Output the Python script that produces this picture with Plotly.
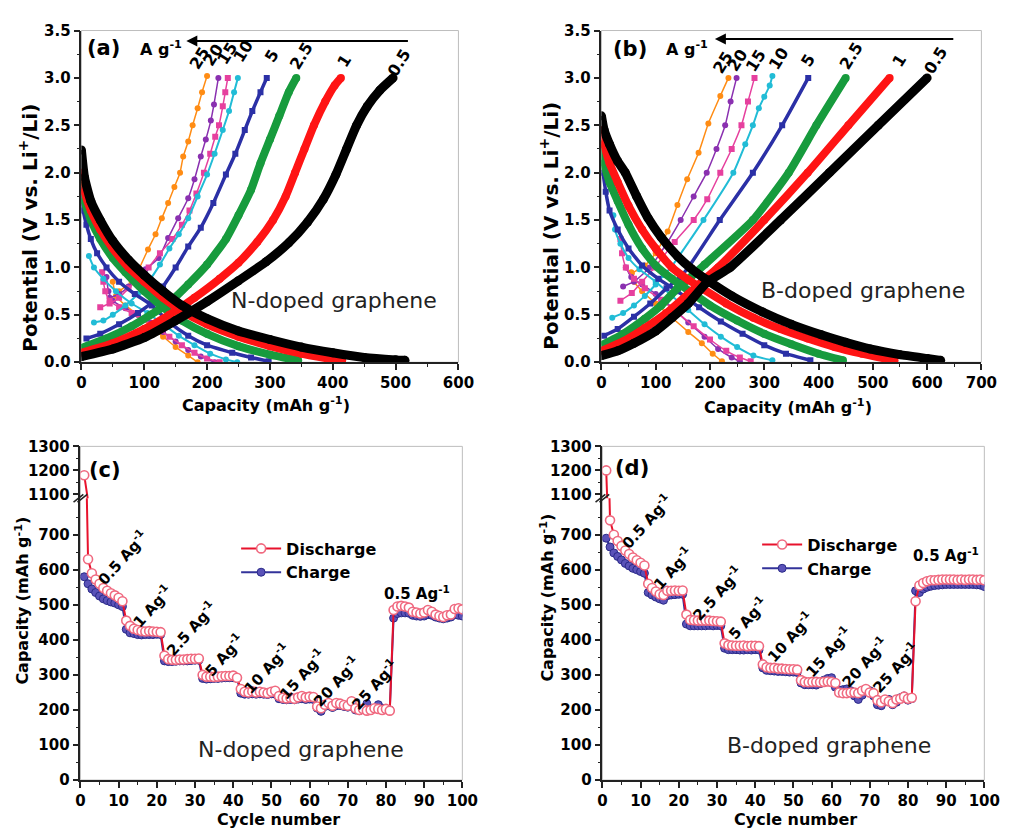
import plotly.graph_objects as go

W, H = 1016, 837
FONT = "DejaVu Sans"

# ---------------- galvanostatic profiles ----------------
RATES = ["0.5", "1", "2.5", "5", "10", "15", "20", "25"]
RATE_COLORS = ["#000000", "#ff1414", "#179b3d", "#2b30a6", "#21bcd6", "#e6409e", "#8a30b0", "#ff8c14"]

# N-doped graphene, charge branch (capacity mAh/g, potential V)
n_chg_cap = [
    [0, 50, 100, 150, 200, 250, 294, 330, 360, 385, 405, 422, 438, 455, 475, 496],
    [0, 50, 100, 140, 180, 220, 250, 280, 305, 325, 340, 355, 370, 388, 403, 413],
    [0, 40, 80, 110, 140, 170, 200, 230, 250, 270, 285, 300, 315, 330, 342],
    [8, 30, 60, 90, 110, 130, 150, 170, 190, 210, 230, 245, 260, 272, 285, 295],
    [20, 35, 50, 70, 90, 110, 125, 140, 155, 170, 185, 200, 212, 225, 235, 243, 249],
    [30, 45, 60, 75, 90, 107, 125, 145, 160, 172, 183, 195, 205, 213, 219, 225, 229, 233],
    [45, 60, 75, 88, 102, 123, 138, 154, 170, 180, 190, 198, 206, 211, 218],
    [60, 80, 92, 106, 118, 128, 138, 148, 157, 162, 170, 177, 185, 192, 200],
]
n_chg_v = [
    [0.06, 0.14, 0.26, 0.44, 0.64, 0.86, 1.06, 1.26, 1.48, 1.72, 1.98, 2.25, 2.50, 2.70, 2.87, 3.00],
    [0.10, 0.20, 0.35, 0.50, 0.68, 0.88, 1.05, 1.27, 1.50, 1.75, 2.00, 2.25, 2.50, 2.75, 2.92, 3.00],
    [0.15, 0.25, 0.38, 0.50, 0.63, 0.82, 1.03, 1.30, 1.55, 1.82, 2.10, 2.35, 2.60, 2.85, 3.00],
    [0.25, 0.30, 0.40, 0.52, 0.62, 0.80, 1.00, 1.22, 1.42, 1.68, 1.98, 2.20, 2.45, 2.65, 2.85, 3.00],
    [0.42, 0.44, 0.50, 0.60, 0.72, 0.88, 1.03, 1.20, 1.35, 1.52, 1.75, 1.98, 2.20, 2.45, 2.65, 2.85, 3.00],
    [0.58, 0.62, 0.68, 0.78, 0.88, 1.00, 1.15, 1.30, 1.45, 1.60, 1.78, 2.00, 2.20, 2.38, 2.50, 2.70, 2.85, 3.00],
    [0.68, 0.72, 0.80, 0.90, 0.98, 1.10, 1.31, 1.52, 1.73, 1.93, 2.17, 2.35, 2.55, 2.72, 3.00],
    [0.75, 0.85, 0.99, 1.19, 1.35, 1.52, 1.68, 1.85, 2.00, 2.17, 2.33, 2.50, 2.68, 2.85, 3.02],
]
# N-doped graphene, discharge branch
n_dis_cap = [
    [0, 5, 15, 30, 50, 75, 100, 130, 160, 200, 250, 300, 350, 400, 450, 500, 515],
    [0, 5, 15, 30, 50, 75, 100, 130, 160, 200, 250, 300, 350, 400, 415],
    [0, 5, 15, 30, 50, 70, 100, 130, 160, 200, 250, 300, 345],
    [0, 3, 8, 15, 25, 40, 60, 85, 112, 140, 170, 200, 240, 270, 298],
    [12, 20, 35, 55, 80, 105, 130, 155, 180, 205, 230, 248],
    [33, 35, 38, 45, 60, 80, 100, 120, 140, 160, 180, 200, 220],
    [40, 43, 50, 70, 90, 110, 130, 150, 170, 190, 212],
    [50, 55, 70, 90, 110, 130, 150, 170, 185],
]
n_dis_v = [
    [2.24, 1.95, 1.70, 1.50, 1.28, 1.08, 0.92, 0.75, 0.60, 0.46, 0.33, 0.24, 0.16, 0.10, 0.05, 0.025, 0.02],
    [2.00, 1.80, 1.60, 1.40, 1.20, 1.00, 0.85, 0.68, 0.54, 0.40, 0.27, 0.17, 0.09, 0.03, 0.02],
    [1.90, 1.70, 1.50, 1.30, 1.10, 0.95, 0.75, 0.58, 0.44, 0.30, 0.17, 0.08, 0.02],
    [1.85, 1.60, 1.45, 1.30, 1.15, 1.00, 0.85, 0.72, 0.60, 0.42, 0.28, 0.18, 0.10, 0.05, 0.01],
    [1.12, 1.00, 0.88, 0.75, 0.62, 0.52, 0.40, 0.28, 0.18, 0.09, 0.03, 0.00],
    [0.95, 0.85, 0.75, 0.65, 0.58, 0.52, 0.45, 0.36, 0.27, 0.18, 0.10, 0.04, 0.00],
    [0.90, 0.75, 0.65, 0.57, 0.50, 0.42, 0.32, 0.22, 0.13, 0.06, 0.00],
    [0.85, 0.70, 0.60, 0.50, 0.38, 0.27, 0.16, 0.07, 0.00],
]

# B-doped graphene, charge branch
b_chg_cap = [
    [0, 30, 60, 100, 130, 160, 194, 237, 330, 420, 510, 600],
    [0, 40, 80, 120, 160, 185, 215, 300, 380, 455, 531],
    [0, 40, 80, 110, 140, 165, 190, 279, 345, 396, 450],
    [5, 30, 60, 90, 120, 145, 160, 218, 279, 333, 381],
    [20, 40, 60, 80, 100, 115, 128, 188, 243, 265, 279, 290, 300, 310, 315],
    [35, 56, 75, 98, 135, 170, 195, 219, 240, 258, 270, 282],
    [40, 60, 89, 120, 146, 170, 194, 212, 228, 238, 249],
    [56, 80, 100, 122, 140, 158, 179, 197, 219, 234],
]
b_chg_v = [
    [0.07, 0.12, 0.20, 0.33, 0.47, 0.62, 0.84, 1.00, 1.50, 2.00, 2.50, 3.00],
    [0.12, 0.22, 0.36, 0.52, 0.72, 0.85, 1.00, 1.50, 2.00, 2.50, 3.00],
    [0.18, 0.30, 0.46, 0.60, 0.78, 0.90, 1.03, 1.50, 2.00, 2.50, 3.00],
    [0.28, 0.35, 0.48, 0.62, 0.78, 0.90, 1.00, 1.50, 2.00, 2.50, 3.00],
    [0.47, 0.52, 0.60, 0.70, 0.82, 0.92, 1.00, 1.50, 2.00, 2.30, 2.50, 2.68, 2.80, 2.92, 3.02],
    [0.65, 0.73, 0.85, 1.00, 1.27, 1.50, 1.72, 2.00, 2.25, 2.50, 2.75, 3.00],
    [0.80, 0.85, 1.00, 1.25, 1.50, 1.75, 2.00, 2.25, 2.50, 2.75, 3.00],
    [0.94, 1.02, 1.15, 1.38, 1.66, 1.93, 2.21, 2.52, 2.81, 3.00],
]
# B-doped graphene, discharge branch
b_dis_cap = [
    [0, 5, 15, 30, 44, 65, 86, 110, 140, 165, 194, 240, 297, 350, 405, 450, 495, 550, 600, 625],
    [0, 5, 15, 30, 50, 75, 100, 130, 160, 185, 230, 280, 330, 380, 430, 480, 530, 540],
    [0, 5, 15, 30, 50, 75, 100, 130, 165, 200, 250, 300, 350, 400, 445],
    [3, 8, 15, 30, 50, 75, 105, 140, 180, 220, 260, 300, 340, 385],
    [22, 25, 35, 50, 70, 100, 130, 160, 190, 220, 250, 280, 315],
    [35, 38, 45, 60, 80, 110, 140, 170, 200, 230, 255, 275],
    [45, 55, 75, 100, 130, 160, 190, 215, 240, 255],
    [55, 60, 75, 100, 130, 160, 185, 205, 222],
]
b_dis_v = [
    [2.60, 2.45, 2.30, 2.12, 2.00, 1.75, 1.52, 1.32, 1.12, 0.99, 0.87, 0.70, 0.53, 0.40, 0.29, 0.21, 0.14, 0.08, 0.04, 0.02],
    [2.45, 2.30, 2.10, 1.90, 1.65, 1.40, 1.20, 1.00, 0.87, 0.78, 0.62, 0.47, 0.35, 0.25, 0.16, 0.09, 0.03, 0.02],
    [2.30, 2.10, 1.90, 1.70, 1.45, 1.20, 1.02, 0.88, 0.74, 0.60, 0.44, 0.30, 0.19, 0.09, 0.02],
    [2.00, 1.80, 1.60, 1.40, 1.20, 1.02, 0.88, 0.75, 0.58, 0.43, 0.30, 0.18, 0.09, 0.02],
    [1.55, 1.40, 1.25, 1.10, 0.98, 0.85, 0.70, 0.55, 0.40, 0.27, 0.16, 0.07, 0.02],
    [1.30, 1.15, 1.00, 0.88, 0.78, 0.66, 0.52, 0.38, 0.24, 0.12, 0.05, 0.01],
    [1.00, 0.90, 0.82, 0.72, 0.58, 0.42, 0.27, 0.14, 0.05, 0.01],
    [0.95, 0.85, 0.75, 0.62, 0.47, 0.32, 0.20, 0.09, 0.01],
]

# rate label anchors (capacity, potential)
n_label_cap = [506, 419, 349, 302, 257, 232, 209, 187]
n_label_v = [3.16, 3.18, 3.23, 3.23, 3.28, 3.26, 3.24, 3.21]
b_label_cap = [616, 549, 459, 381, 327, 285, 251, 224]
b_label_v = [3.18, 3.18, 3.23, 3.18, 3.20, 3.18, 3.18, 3.16]

# ---------------- rate capability ----------------
cycles = list(range(1, 101))
n_discharge = [1180, 630, 590, 572, 560, 548, 540, 533, 527, 520,
               510, 455, 440, 432, 428, 425, 424, 425, 424, 423,
               422, 355, 345, 343, 343, 344, 344, 345, 346, 346,
               347, 300, 295, 295, 294, 295, 296, 297, 297, 298,
               292, 260, 252, 250, 253, 250, 252, 250, 248, 252,
               255, 240, 235, 233, 235, 232, 236, 240, 236, 238,
               237, 210, 205, 215, 220, 212, 220, 218, 214, 212,
               225, 205, 200, 203, 198, 200, 205, 203, 200, 203,
               198, 485, 495, 497, 495, 492, 480, 478, 475, 478,
               485, 480, 472, 468, 465, 470, 472, 488, 490, 487]
n_charge = [580, 560, 545, 535, 525, 517, 512, 508, 505, 500,
            495, 430, 420, 418, 415, 414, 415, 415, 415, 416,
            415, 340, 338, 338, 339, 340, 340, 340, 341, 342,
            342, 290, 288, 289, 290, 290, 291, 292, 292, 292,
            290, 248, 245, 245, 246, 245, 246, 245, 244, 246,
            245, 232, 230, 229, 230, 229, 231, 232, 230, 231,
            230, 205, 196, 210, 212, 207, 212, 213, 210, 208,
            212, 200, 198, 203, 218, 202, 205, 215, 205, 202,
            200, 462, 475, 477, 477, 476, 470, 468, 467, 468,
            472, 470, 465, 462, 460, 462, 465, 472, 470, 468]
b_discharge = [1200, 741, 700, 682, 668, 655, 645, 635, 627, 620,
               612, 560, 548, 538, 530, 528, 540, 540, 541, 540,
               541, 472, 457, 456, 455, 455, 455, 455, 454, 453,
               452, 390, 385, 384, 383, 383, 384, 382, 383, 383,
               382, 330, 322, 320, 320, 318, 318, 317, 316, 316,
               315, 285, 280, 279, 280, 280, 279, 280, 281, 280,
               277, 250, 248, 248, 250, 250, 248, 255, 260, 250,
               248, 228, 222, 230, 225, 220, 230, 232, 238, 232,
               235, 510, 555, 562, 567, 570, 570, 571, 572, 572,
               572, 572, 571, 572, 571, 572, 572, 571, 572, 570]
b_charge = [690, 665, 648, 638, 628, 618, 611, 604, 600, 595,
            590, 535, 528, 522, 517, 513, 526, 528, 529, 530,
            530, 445, 440, 440, 440, 440, 440, 441, 440, 441,
            440, 376, 372, 372, 372, 371, 371, 372, 371, 372,
            371, 320, 313, 312, 311, 310, 310, 309, 308, 308,
            307, 277, 272, 272, 272, 271, 275, 285, 290, 292,
            265, 257, 258, 260, 255, 240, 230, 242, 258, 255,
            240, 215, 212, 225, 230, 215, 222, 235, 240, 228,
            232, 540, 535, 545, 550, 553, 555, 556, 557, 558,
            558, 558, 558, 558, 558, 558, 558, 557, 556, 552]

STEP_LABELS = ["0.5", "1", "2.5", "5", "10", "15", "20", "25"]
n_step_cycle = [11, 18.7, 29, 37.5, 48.7, 58, 67, 77]
n_step_cap = [637, 497, 433, 357, 321, 302, 282, 274]
b_step_cycle = [11.5, 18.4, 30, 38, 49, 59, 68.5, 76.5]
b_step_cap = [740, 604, 534, 461, 408, 366, 338, 321]


def px(x):
    return x / W


def py(y):
    return 1 - y / H


fig = go.Figure()

# profile styles (line width, marker size, marker symbol)
LW = [9, 8, 8, 3.5, 2, 1.5, 1.5, 1.5]
MS = [9, 8, 8, 6, 6, 6, 6, 6]
SYM = ["circle", "circle", "circle", "square", "circle", "square", "circle", "circle"]


def add_profiles(xa, ya, chg_cap, chg_v, dis_cap, dis_v):
    for i in reversed(range(len(RATES))):
        for cx, cy in ((chg_cap[i], chg_v[i]), (dis_cap[i], dis_v[i])):
            fig.add_trace(go.Scatter(
                x=cx, y=cy, xaxis=xa, yaxis=ya, mode="lines+markers",
                line=dict(color=RATE_COLORS[i], width=LW[i], shape="spline", smoothing=0.5),
                marker=dict(color=RATE_COLORS[i], size=MS[i], symbol=SYM[i]),
                showlegend=False, hoverinfo="skip"))


add_profiles("x", "y", n_chg_cap, n_chg_v, n_dis_cap, n_dis_v)
add_profiles("x2", "y2", b_chg_cap, b_chg_v, b_dis_cap, b_dis_v)

RED = "#e8122c"
NAVY = "#33339a"


def add_rate(xa, ylo, yhi, dis, chg, legend):
    for ya, show in ((ylo, True), (yhi, False)):
        fig.add_trace(go.Scatter(
            x=cycles, y=chg, xaxis=xa, yaxis=ya, mode="lines+markers", name="Charge",
            line=dict(color=NAVY, width=2),
            marker=dict(symbol="circle", size=8, color="#5a52b8", line=dict(color="#2a2a88", width=1)),
            showlegend=show, legend=legend, legendrank=2, hoverinfo="skip"))
    for ya, show in ((ylo, True), (yhi, False)):
        fig.add_trace(go.Scatter(
            x=cycles, y=dis, xaxis=xa, yaxis=ya, mode="lines+markers", name="Discharge",
            line=dict(color=RED, width=2),
            marker=dict(symbol="circle", size=9, color="white", line=dict(color="#f06a80", width=1.6)),
            showlegend=show, legend=legend, legendrank=1, hoverinfo="skip"))


add_rate("x3", "y3", "y5", n_discharge, n_charge, "legend")
add_rate("x4", "y4", "y6", b_discharge, b_charge, "legend2")

TICKFONT = dict(family=FONT, size=15, color="black", weight="bold")


def axis(domain, rng, anchor, dtick=None, minor=None, tickvals=None, fmt=None):
    d = dict(domain=domain, range=rng, anchor=anchor, showline=True, linecolor="#222",
             linewidth=1.5, ticks="outside", ticklen=6, tickwidth=1.5, tickcolor="#222",
             showgrid=False, zeroline=False, tickfont=TICKFONT, mirror=False)
    if dtick is not None:
        d["dtick"] = dtick
        d["tick0"] = 0
    if tickvals is not None:
        d["tickmode"] = "array"
        d["tickvals"] = tickvals
    if minor is not None:
        d["minor"] = dict(ticks="outside", ticklen=3, tickwidth=1.2, tickcolor="#222", **minor)
    if fmt:
        d["tickformat"] = fmt
    return d


A_X = [px(78), px(463)]
B_X = [px(609), px(997)]
C_X = [px(77), px(467)]
D_X = [px(610), px(1000)]
TOP_Y = [py(361), py(22)]
LOW_Y = [py(788), py(500)]
UP_Y = [py(500), py(447)]

fig.update_layout(
    xaxis=axis(A_X, [0, 600], "y", dtick=100, minor=dict(dtick=50)),
    yaxis=axis(TOP_Y, [0, 3.5], "x", dtick=0.5, minor=dict(dtick=0.25), fmt=".1f"),
    xaxis2=axis(B_X, [0, 700], "y2", dtick=100, minor=dict(dtick=50)),
    yaxis2=axis(TOP_Y, [0, 3.5], "x2", dtick=0.5, minor=dict(dtick=0.25), fmt=".1f"),
    xaxis3=axis(C_X, [0, 100], "y3", dtick=10, minor=dict(dtick=5)),
    yaxis3=axis(LOW_Y, [0, 804], "x3", tickvals=list(range(0, 800, 100)),
                minor=dict(tickvals=list(range(50, 800, 100)))),
    yaxis5=axis(UP_Y, [1084, 1300], "x3", tickvals=[1100, 1200, 1300],
                minor=dict(tickvals=[1150, 1250])),
    xaxis4=axis(D_X, [0, 100], "y4", dtick=10, minor=dict(dtick=5)),
    yaxis4=axis(LOW_Y, [0, 804], "x4", tickvals=list(range(0, 800, 100)),
                minor=dict(tickvals=list(range(50, 800, 100)))),
    yaxis6=axis(UP_Y, [1084, 1300], "x4", tickvals=[1100, 1200, 1300],
                minor=dict(tickvals=[1150, 1250])),
)

# light frames around each panel
shapes = []
for xs, ys in ((A_X, TOP_Y), (B_X, TOP_Y), (C_X, [LOW_Y[0], UP_Y[1]]), (D_X, [LOW_Y[0], UP_Y[1]])):
    shapes.append(dict(type="rect", xref="paper", yref="paper", x0=xs[0], x1=xs[1], y0=ys[0], y1=ys[1],
                       line=dict(color="#bdbdbd", width=1), layer="below"))
# axis-break marks
for x_axis in (77, 610):
    for off in (-2, 2):
        shapes.append(dict(type="line", xref="paper", yref="paper",
                           x0=px(x_axis - 5 + off), y0=py(504),
                           x1=px(x_axis + 5 + off), y1=py(496),
                           line=dict(color="#222", width=1.5)))
fig.update_layout(shapes=shapes)

ann = []
BOLD = dict(family=FONT, color="black", weight="bold")


def text(x, y, s, size, xref="paper", yref="paper", angle=0, bold=True):
    f = dict(BOLD, size=size) if bold else dict(family=FONT, size=size, color="#222")
    ann.append(dict(x=x, y=y, xref=xref, yref=yref, text=s, showarrow=False, font=f,
                    textangle=angle, xanchor="center", yanchor="middle"))


# panel letters
text(px(101), py(40), "(a)", 21)
text(px(638), py(41), "(b)", 21)
text(px(102), py(471), "(c)", 21)
text(px(640), py(469), "(d)", 21)

# axis titles
for xc, yc in ((24, 224), (556, 222)):
    text(px(xc), py(yc), "Potential (V vs. Li<sup>+</sup>/Li)", 20, angle=-90)
text(px(267), py(404), "Capacity (mAh g<sup>-1</sup>)", 16)
text(px(800), py(406), "Capacity (mAh g<sup>-1</sup>)", 16)
text(px(18), py(605), "Capacity (mAh g<sup>-1</sup>)", 16, angle=-90)
text(px(553), py(602), "Capacity (mAh g<sup>-1</sup>)", 16, angle=-90)
text(px(279), py(828), "Cycle number", 16)
text(px(807), py(828), "Cycle number", 16)

# rate labels on profiles
for i, r in enumerate(RATES):
    text(n_label_cap[i], n_label_v[i], r, 16, xref="x", yref="y", angle=-58)
    text(b_label_cap[i], b_label_v[i], r, 16, xref="x2", yref="y2", angle=-58)

# current-density arrows
for xr, yr, x_head, x_tail, yv, lx, ly in (("x", "y", 167, 522, 3.39, 126, 3.31),
                                            ("x2", "y2", 209, 651, 3.41, 157, 3.31)):
    ann.append(dict(x=x_head, y=yv, ax=x_tail, ay=yv, xref=xr, yref=yr, axref=xr, ayref=yr,
                    text="", showarrow=True, arrowhead=2, arrowsize=1.1, arrowwidth=2,
                    arrowcolor="black"))
    text(lx, ly, "A g<sup>-1</sup>", 16, xref=xr, yref=yr)

text(402, 0.65, "N-doped graphene", 22, xref="x", yref="y", bold=False)
text(482, 0.76, "B-doped graphene", 22, xref="x2", yref="y2", bold=False)
text(57.7, 87, "N-doped graphene", 22, xref="x3", yref="y3", bold=False)
text(59.2, 98, "B-doped graphene", 22, xref="x4", yref="y4", bold=False)

# current steps on rate panels
for i, s in enumerate(STEP_LABELS):
    text(n_step_cycle[i], n_step_cap[i], s + " Ag<sup>-1</sup>", 15, xref="x3", yref="y3", angle=-48)
    text(b_step_cycle[i], b_step_cap[i], s + " Ag<sup>-1</sup>", 15, xref="x4", yref="y4", angle=-48)
text(88, 534, "0.5 Ag<sup>-1</sup>", 15, xref="x3", yref="y3")
text(90, 643, "0.5 Ag<sup>-1</sup>", 15, xref="x4", yref="y4")

fig.update_layout(annotations=ann)

LEG = dict(font=dict(family=FONT, size=16, color="black", weight="bold"), bgcolor="rgba(0,0,0,0)",
           xanchor="left", yanchor="top", tracegroupgap=0, itemwidth=40, traceorder="normal")
fig.update_layout(
    legend=dict(LEG, x=px(236), y=py(534)),
    legend2=dict(LEG, x=px(768), y=py(530)),
    width=W, height=H, margin=dict(l=0, r=0, t=0, b=0),
    paper_bgcolor="white", plot_bgcolor="white",
)

fig.write_html("out.html")
